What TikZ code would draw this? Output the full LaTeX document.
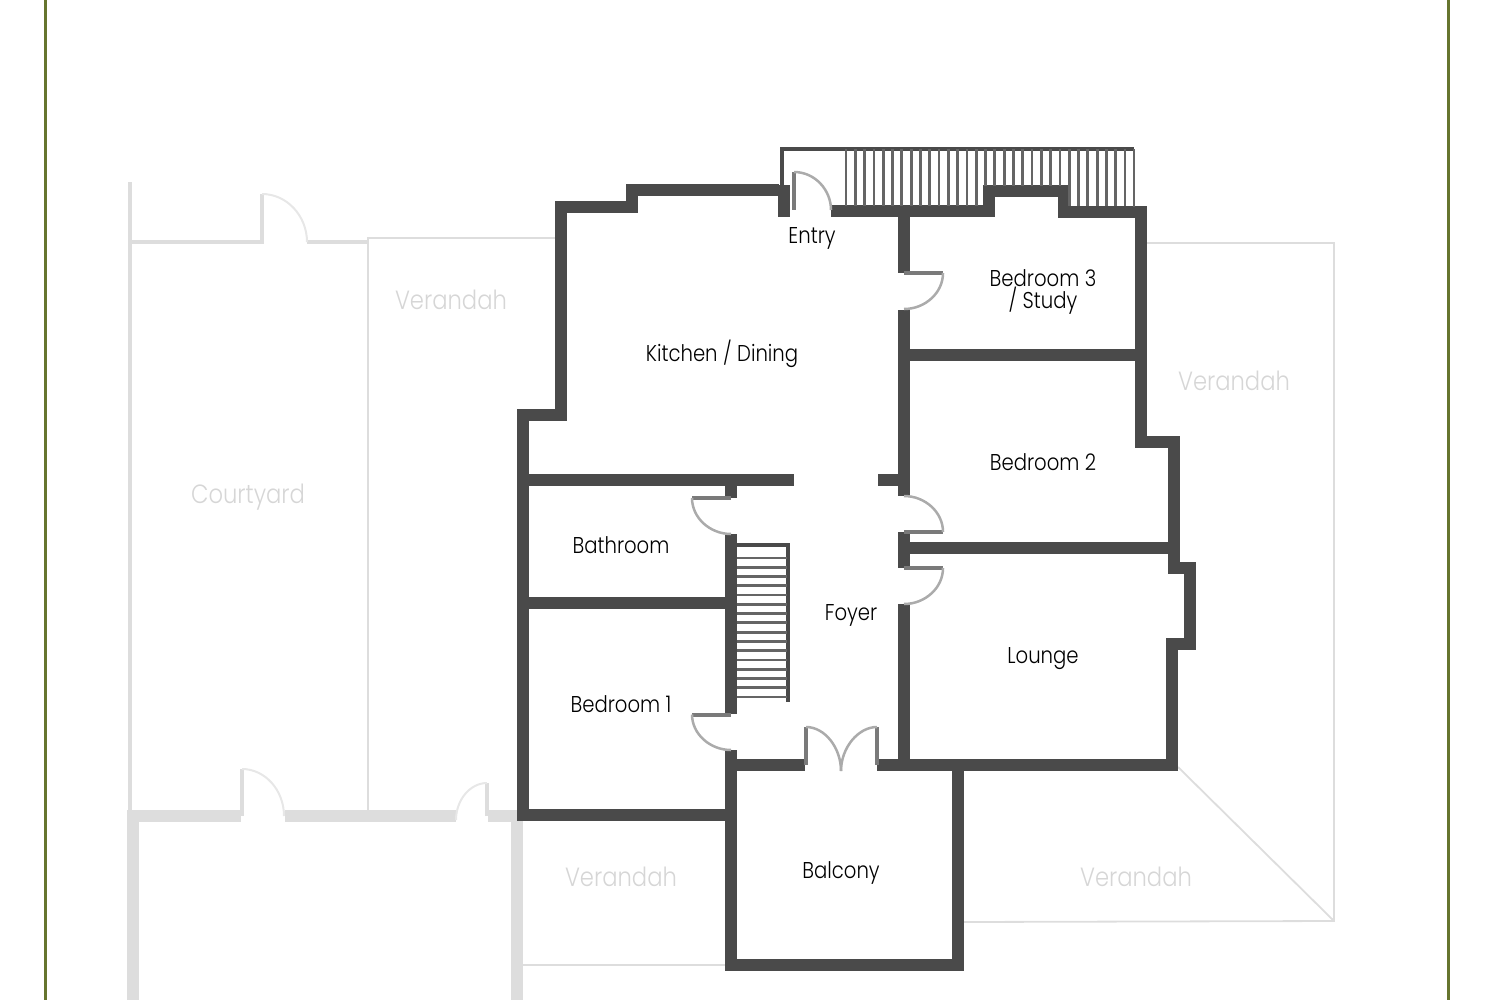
\documentclass[tikz,border=0pt]{standalone}
\usepackage{fontspec}
\setmainfont{Poppins Light}[FakeStretch=0.86]
\definecolor{wallcol}{HTML}{4A4A4A}
\definecolor{barcol}{HTML}{7A7A7A}
\definecolor{swingcol}{HTML}{ABABAB}
\definecolor{palecol}{HTML}{DDDDDD}
\definecolor{paletext}{HTML}{D6D6D6}
\definecolor{edgecol}{HTML}{66752F}
\tikzset{
	wall/.style={draw=wallcol,line width=0.115cm,miter limit=10},
	doorbar/.style={draw=barcol,line width=0.04cm},
	swing/.style={draw=swingcol,line width=0.025cm},
	rail/.style={draw=wallcol,line width=0.04cm},
	spindle/.style={draw=wallcol!85,line width=0.028cm},
	palewall/.style={draw=palecol,line width=0.115cm},
	palebar/.style={draw=palecol,line width=0.045cm},
	paleline/.style={draw=palecol,line width=0.018cm},
	paleswing/.style={draw=palecol!70,line width=0.02cm},
	room/.style={text=black,font=\fontsize{6.5}{6}\selectfont,align=center,inner sep=0pt},
	outside/.style={text=paletext,font=\fontsize{7.5}{8}\selectfont,inner sep=0pt},
}
\begin{document}
\begin{tikzpicture}[x=0.01cm,y=-0.01cm]
\useasboundingbox (0,0) rectangle (1500,1000);
\draw[edgecol,line width=0.03cm] (45.5,0) -- (45.5,1000);
\draw[edgecol,line width=0.03cm] (1448,0) -- (1448,1000);

\draw[paleline] (368,815) -- (368,238) -- (556,238);
\draw[paleline] (1146,243) -- (1334,243) -- (1334,921) -- (963,922);
\draw[paleline] (1178,767) -- (1334,921);
\draw[paleline] (523,965) -- (727,965);
\draw[palebar] (130,182) -- (130,812);
\draw[palebar] (130,242) -- (262,242) -- (262,194);
\draw[palebar] (307,242) -- (367,242);
\draw[paleswing] (262,194) .. controls (287,194) and (307,216) .. (307,242);
\draw[palewall] (133,1000) -- (133,816) -- (241,816);
\draw[palewall] (285,816) -- (456,816);
\draw[palewall] (488,816) -- (517,816);
\draw[palewall] (517,810) -- (517,1000);
\draw[palebar] (242,816) -- (242,769);
\draw[palebar] (487,816) -- (487,783);
\draw[paleswing] (242,769) .. controls (265,769) and (284,790) .. (284,816);
\draw[paleswing] (487,783) .. controls (470,783) and (456,800) .. (456,820);

\draw[wall] (779,190) -- (632,190) -- (632,207) -- (561,207) -- (561,415)
	-- (523,415) -- (523,815) -- (731,815);
\draw[wall] (784,185) -- (784,217);
\draw[wall] (831,211) -- (989,211) -- (989,191) -- (1064,191) -- (1064,212)
	-- (1141,212) -- (1141,442) -- (1174,442) -- (1174,568) -- (1190,568)
	-- (1190,644) -- (1172,644) -- (1172,765) -- (877,765);
\draw[wall] (904,211) -- (904,273);
\draw[wall] (904,310) -- (904,496);
\draw[wall] (904,355) -- (1141,355);
\draw[wall] (878,480) -- (904,480);
\draw[wall] (904,532) -- (904,568);
\draw[wall] (904,548) -- (1173,548);
\draw[wall] (904,604) -- (904,765);
\draw[wall] (523,480) -- (794,480);
\draw[wall] (731,480) -- (731,498);
\draw[wall] (731,534) -- (731,714);
\draw[wall] (523,603) -- (731,603);
\draw[wall] (731,750) -- (731,965) -- (958,965) -- (958,765);
\draw[wall] (731,765) -- (805,765);

\draw[doorbar] (794,172) -- (794,210);
\draw[doorbar] (904,273) -- (943,273);
\draw[doorbar] (904,532) -- (943,532);
\draw[doorbar] (904,568) -- (943,568);
\draw[doorbar] (692,498) -- (731,498);
\draw[doorbar] (692,714.5) -- (731,714.5);
\draw[doorbar] (806,727) -- (806,765);
\draw[doorbar] (877,727) -- (877,765);
\draw[swing] (794,172) .. controls (815,172) and (831,190) .. (831,210);
\draw[swing] (943,273) .. controls (943,293) and (925,309) .. (904,309);
\draw[swing] (904,496) .. controls (925,496) and (943,512) .. (943,532);
\draw[swing] (943,568) .. controls (943,588) and (925,604) .. (904,604);
\draw[swing] (692,498) .. controls (692,518) and (710,534) .. (731,534);
\draw[swing] (692,714.5) .. controls (692,734) and (710,750) .. (731,750);
\draw[swing] (806,727) .. controls (825,727) and (841,748) .. (841,771);
\draw[swing] (877,727) .. controls (858,727) and (841,748) .. (841,771);

\draw[rail] (782,190) -- (782,149) -- (1134,149);
\draw[spindle] (1134,149) -- (1134,207);
\foreach \i in {0,...,30} {
	\pgfmathsetmacro{\spx}{846+9.3*\i}
	\pgfmathsetmacro{\spy}{(\spx>985 && \spx<1062) ? 186 : 206}
	\draw[spindle] (\spx,149) -- (\spx,\spy);
}
\draw[rail] (737,545) -- (788,545);
\draw[rail] (788,543) -- (788,702);
\foreach \i in {0,...,15} {
	\draw[spindle] (737,558+9.27*\i) -- (787,558+9.27*\i);
}

\node[room] (entry) at (812,238) {Entry};
\node[room] (kitchen) at (722,354) {Kitchen / Dining};
\node[room] (bed3) at (1043,292) {Bedroom 3\\[-1pt]/ Study};
\node[room] (bed2) at (1043,462) {Bedroom 2};
\node[room] (lounge) at (1043,659) {Lounge};
\node[room] (bath) at (621,545) {Bathroom};
\node[room] (bed1) at (621,704) {Bedroom 1};
\node[room] (foyer) at (851,615) {Foyer};
\node[room] (balcony) at (841,873) {Balcony};
\node[outside] (ver1) at (451,300) {Verandah};
\node[outside] (ver2) at (1234,381) {Verandah};
\node[outside] (ver3) at (621,877) {Verandah};
\node[outside] (ver4) at (1136,877) {Verandah};
\node[outside] (court) at (248,497) {Courtyard};
\end{tikzpicture}
\end{document}
